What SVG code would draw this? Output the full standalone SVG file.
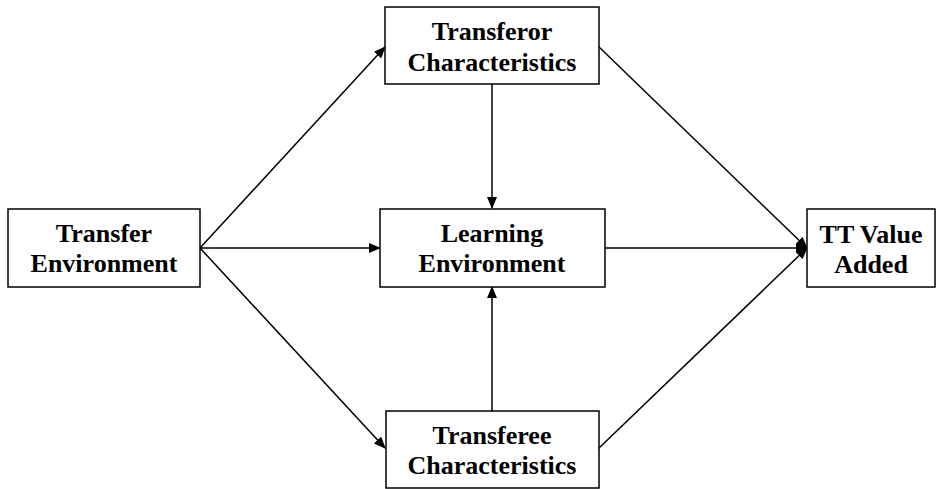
<svg xmlns="http://www.w3.org/2000/svg" width="936" height="489" viewBox="0 0 936 489">
<style>
.box{fill:#fff;stroke:#000;stroke-width:1.5}
.t{font-family:"Liberation Serif","Times New Roman",serif;font-weight:bold;font-size:26px;text-anchor:middle;fill:#000}
.c{stroke:#000;stroke-width:1.5;fill:none;marker-end:url(#ah)}
.n{stroke:#000;stroke-width:1.5;fill:none}
</style>
<defs>
<marker id="ah" markerWidth="12" markerHeight="10" refX="11" refY="5" orient="auto" markerUnits="userSpaceOnUse">
<path d="M0,0 L12,5 L0,10 Z" fill="#000"/>
</marker>
</defs>
<rect width="936" height="489" fill="#fff"/>
<g id="connectors">
<line class="c" x1="200" y1="248" x2="385" y2="47"/>
<line class="c" x1="200" y1="248" x2="380" y2="248"/>
<line class="c" x1="200" y1="248" x2="385" y2="448"/>
<line class="c" x1="492" y1="84" x2="492" y2="208"/>
<line class="c" x1="492" y1="411" x2="492" y2="287"/>
<line class="c" x1="598" y1="46" x2="807" y2="248"/>
<line class="c" x1="605" y1="248" x2="807" y2="248"/>
<line class="c" x1="598" y1="449" x2="807" y2="248"/>
</g>
<g id="transfer-env">
<rect class="box" x="8" y="209" width="192" height="78"/>
<text class="t" x="104" y="242">Transfer</text>
<text class="t" x="104" y="272">Environment</text>
</g>
<g id="transferor">
<rect class="box" x="385" y="7" width="214" height="77"/>
<text class="t" x="492" y="40">Transferor</text>
<text class="t" x="492" y="71">Characteristics</text>
</g>
<g id="learning-env">
<rect class="box" x="380" y="209" width="225" height="78"/>
<text class="t" x="492" y="242">Learning</text>
<text class="t" x="492" y="272">Environment</text>
</g>
<g id="transferee">
<rect class="box" x="386" y="411" width="213" height="77"/>
<text class="t" x="492" y="444">Transferee</text>
<text class="t" x="492" y="474">Characteristics</text>
</g>
<g id="tt-value">
<rect class="box" x="807" y="209" width="128" height="78"/>
<text class="t" x="871" y="243">TT Value</text>
<text class="t" x="871" y="273">Added</text>
</g>
</svg>
